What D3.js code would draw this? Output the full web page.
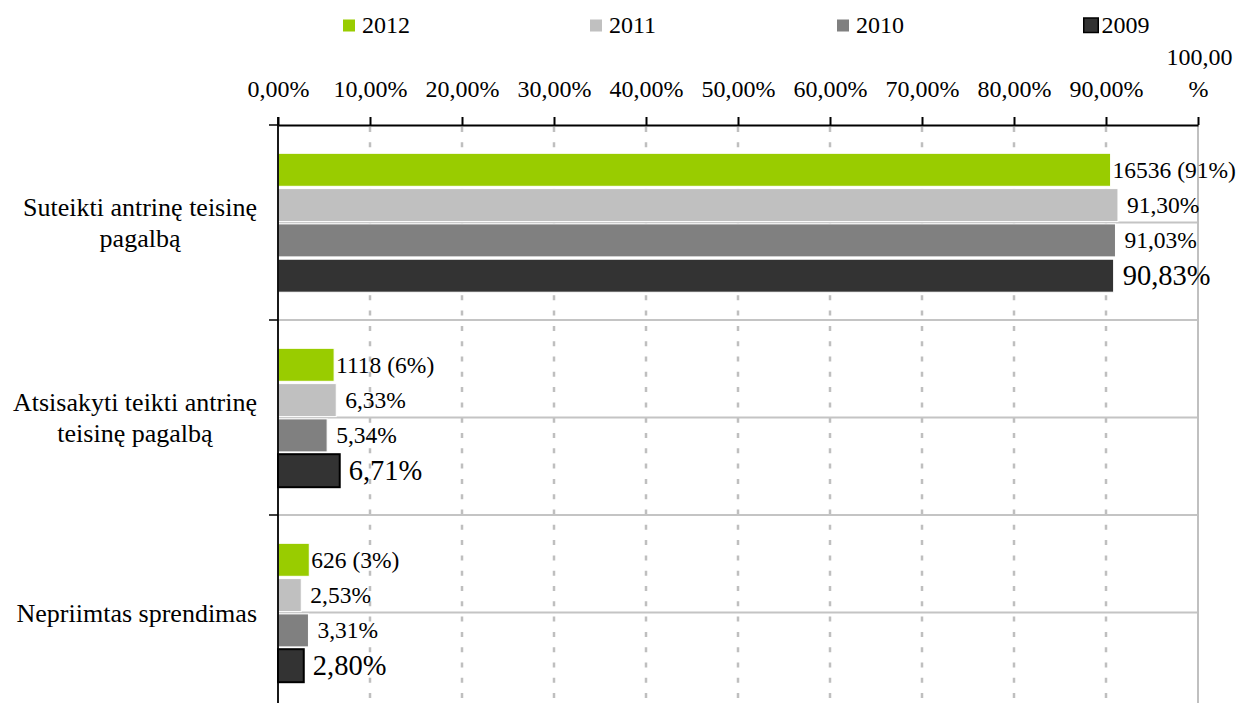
<!DOCTYPE html>
<html>
<head>
<meta charset="utf-8">
<script src="https://cdn.jsdelivr.net/npm/d3@7/dist/d3.min.js"></script>
<style>
  html, body { margin: 0; padding: 0; background: #fff; }
  svg { display: block; }
  svg text { font-family: "Liberation Serif", "Times New Roman", serif !important; }
</style>
</head>
<body>
<svg id="chart" width="1239" height="703"></svg>
<script>
// ---- data ----
const categories = [
  "Suteikti antrinę teisinę pagalbą",
  "Atsisakyti teikti antrinę teisinę pagalbą",
  "Nepriimtas sprendimas"
];
const categoryLines = [
  ["Suteikti antrinę teisinę", "pagalbą"],
  ["Atsisakyti teikti antrinę", "teisinę pagalbą"],
  ["Nepriimtas sprendimas"]
];
const series = ["2012", "2011", "2010", "2009"];
const counts2012 = [16536, 1118, 626];
const values2012 = [90.5, 6.1, 3.4];
const values2011 = [91.30, 6.33, 2.53];
const values2010 = [91.03, 5.34, 3.31];
const values2009 = [90.83, 6.71, 2.80];
const tickValues = [0, 10, 20, 30, 40, 50, 60, 70, 80, 90, 100];
const colors = { "2012": "#99cc00", "2011": "#c0c0c0", "2010": "#808080", "2009": "#333333" };

const locale = d3.formatLocale({ decimal: ",", thousands: " ", grouping: [3], currency: ["", ""] });
const f2 = locale.format(".2f");

const seriesValues = { "2012": values2012, "2011": values2011, "2010": values2010, "2009": values2009 };
const rows = [];
categories.forEach((c, ci) => {
  series.forEach(s => {
    const v = seriesValues[s][ci];
    const label = s === "2012"
      ? `${counts2012[ci]} (${Math.round(v)}%)`
      : `${f2(v)}%`;
    rows.push({ cat: c, ci, s, v, label });
  });
});

// ---- layout ----
const svg = d3.select("#chart");
const x = d3.scaleLinear().domain([0, 100]).range([278, 1198]);
const y = d3.scaleBand().domain(categories).range([125, 710]);
const inner = d3.scaleBand().domain(series).range([28.3, 167.2]).paddingInner(0.065);

// dashed vertical gridlines
svg.append("g").selectAll("line")
  .data(tickValues.filter(t => t > 0 && t < 100))
  .join("line")
  .attr("x1", d => x(d)).attr("x2", d => x(d))
  .attr("y1", 127).attr("y2", 703)
  .attr("stroke", "#bfbfbf").attr("stroke-width", 2.5)
  .attr("stroke-dasharray", "5,10.3");

// light horizontal lines (band boundaries and band centres)
const hLines = [];
categories.forEach((c, i) => {
  if (i > 0) hLines.push(y(c));
  hLines.push(y(c) + y.bandwidth() / 2);
});
svg.append("g").selectAll("line")
  .data(hLines)
  .join("line")
  .attr("x1", x(0)).attr("x2", x(100))
  .attr("y1", d => d).attr("y2", d => d)
  .attr("stroke", "#c4c4c4").attr("stroke-width", 2);

// right border
svg.append("line")
  .attr("x1", x(100)).attr("x2", x(100))
  .attr("y1", 125).attr("y2", 703)
  .attr("stroke", "#c0c0c0").attr("stroke-width", 2);

// bars
svg.append("g").selectAll("rect")
  .data(rows)
  .join("rect")
  .attr("x", x(0))
  .attr("y", d => y(d.cat) + inner(d.s))
  .attr("width", d => x(d.v) - x(0))
  .attr("height", inner.bandwidth())
  .attr("fill", d => colors[d.s])
  .attr("stroke", d => (d.s === "2009" && d.ci > 0) ? "#000" : "#fff")
  .attr("stroke-width", d => (d.s === "2009" && d.ci > 0) ? 2 : 1);

// data labels
svg.append("g").selectAll("text")
  .data(rows)
  .join("text")
  .attr("x", d => x(d.v) + (d.s === "2012" ? 2 : 9))
  .attr("y", d => y(d.cat) + inner(d.s) + inner.bandwidth() / 2)
  .attr("dy", "0.33em")
  .attr("font-size", d => d.s === "2009" ? 28.5 : 23.5)
  .attr("fill", "#000")
  .text(d => d.label);

// top axis
const xAxis = d3.axisTop(x)
  .tickValues(tickValues)
  .tickSize(8)
  .tickSizeOuter(0)
  .tickPadding(20.3)
  .tickFormat(d => `${f2(d)}%`);
const gx = svg.append("g").attr("transform", "translate(0,125)").call(xAxis)
  .attr("font-family", null);
gx.select(".domain").attr("stroke", "#000").attr("stroke-width", 2);
gx.selectAll(".tick line").attr("stroke", "#000").attr("stroke-width", 2);
gx.selectAll(".tick text")
  .attr("font-size", 24).attr("fill", "#000");
gx.selectAll(".tick").filter(d => d === 100).select("text")
  .text(null)
  .call(t => {
    t.append("tspan").attr("x", 1).attr("dy", "-1.32em").text(f2(100));
    t.append("tspan").attr("x", 0).attr("dy", "1.32em").text("%");
  });

// left axis line + boundary ticks
svg.append("line")
  .attr("x1", x(0)).attr("x2", x(0))
  .attr("y1", 117).attr("y2", 703)
  .attr("stroke", "#000").attr("stroke-width", 1.8);
svg.append("g").selectAll("line")
  .data(categories)
  .join("line")
  .attr("x1", x(0) - 9).attr("x2", x(0))
  .attr("y1", d => y(d)).attr("y2", d => y(d))
  .attr("stroke", "#000").attr("stroke-width", 1.5);

// category labels
const lineH = 31.6;
categories.forEach((c, i) => {
  const lines = categoryLines[i];
  const t = svg.append("text")
    .attr("font-size", 26).attr("fill", "#000")
    .attr("text-anchor", "middle");
  const cy = y(c) + y.bandwidth() / 2;
  const firstBase = cy - (lines.length - 1) * lineH / 2 + 9;
  lines.forEach((ln, j) => {
    t.append("tspan").attr("x", 0).attr("y", firstBase + j * lineH).text(ln);
  });
  let maxW = 0;
  t.selectAll("tspan").each(function () { maxW = Math.max(maxW, this.getComputedTextLength()); });
  t.selectAll("tspan").attr("x", 257 - maxW / 2);
});

// legend
const legendX = [343, 590, 837, 1083];
const lg = svg.append("g").selectAll("g")
  .data(series)
  .join("g")
  .attr("transform", (d, i) => `translate(${legendX[i]},0)`);
lg.append("rect")
  .attr("x", d => d === "2009" ? 0.75 : 0)
  .attr("y", d => d === "2009" ? 18 : 19.5)
  .attr("width", d => d === "2009" ? 14.5 : 12)
  .attr("height", d => d === "2009" ? 14.5 : 12)
  .attr("fill", d => colors[d])
  .attr("stroke", d => d === "2009" ? "#000" : "none")
  .attr("stroke-width", 1.5);
lg.append("text")
  .attr("x", d => d === "2009" ? 18.5 : 19)
  .attr("y", 33.3)
  .attr("font-size", 24).attr("fill", "#000")
  .text(d => d);
</script>
</body>
</html>
